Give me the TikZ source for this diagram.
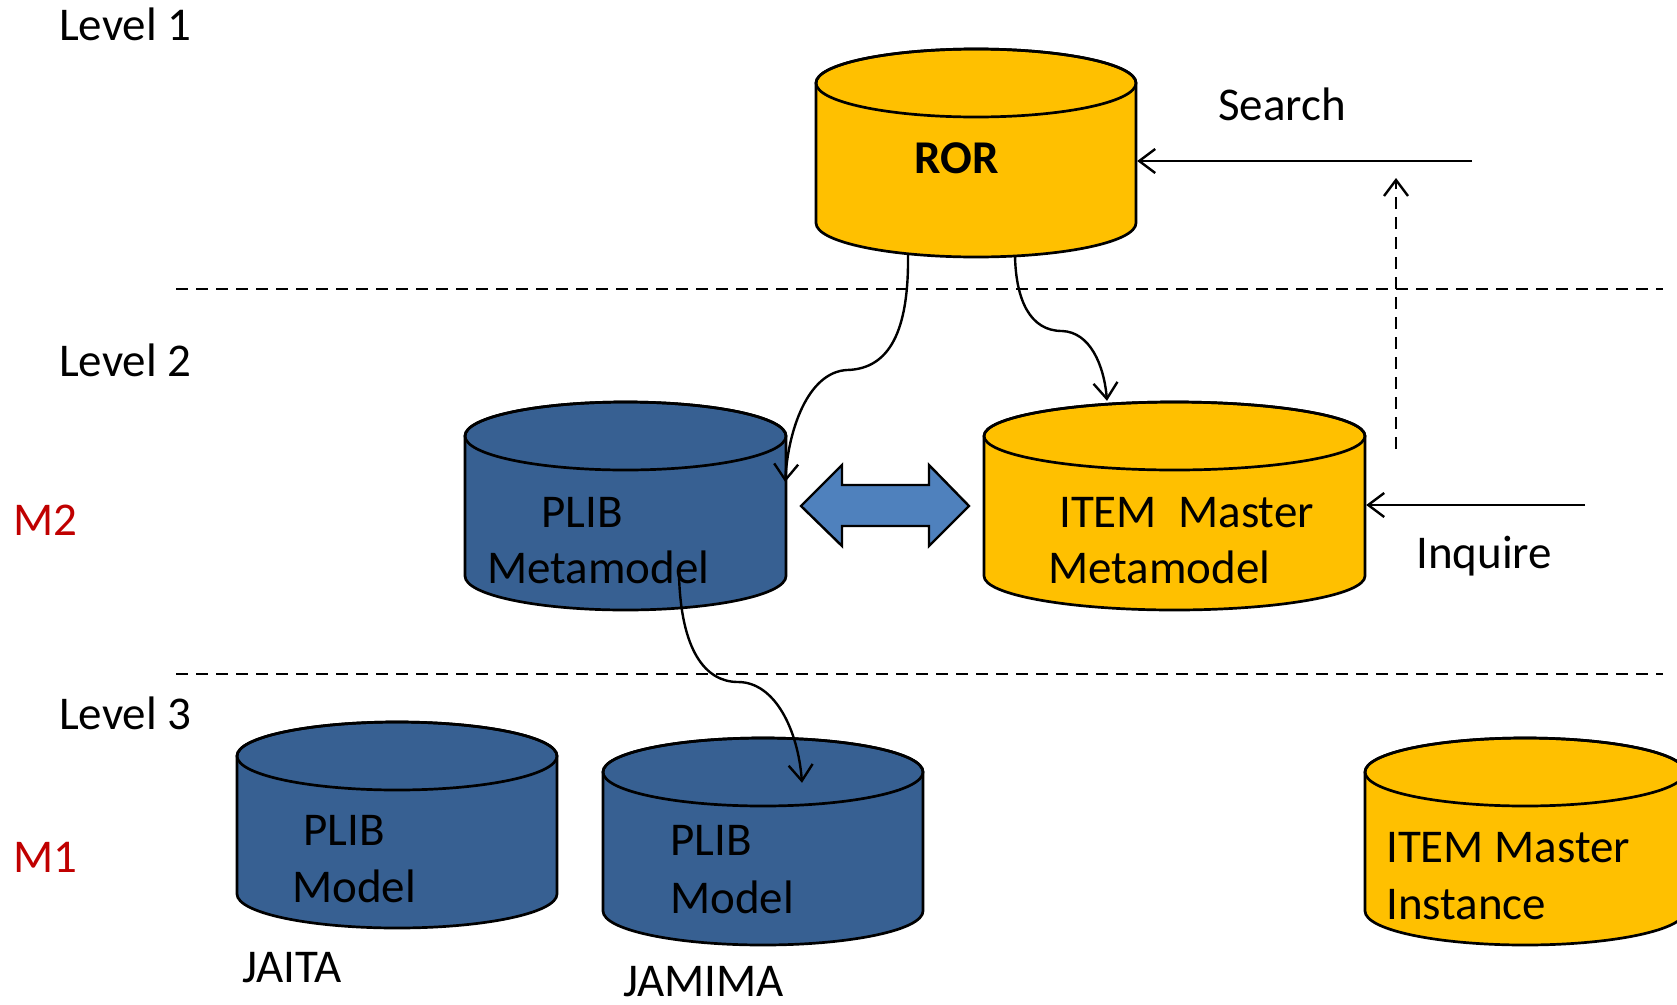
\documentclass[tikz,border=0pt]{standalone}
\usepackage{fontspec}
\setmainfont{Carlito}
\usetikzlibrary{arrows.meta,calc}
\definecolor{cylyellow}{HTML}{FFC000}
\definecolor{cylblue}{HTML}{376092}
\definecolor{arrowblue}{HTML}{4F81BD}
\definecolor{mred}{HTML}{C00000}
\tikzset{
  cylline/.style={draw=black, line width=2.7pt, line join=round},
  lbl/.style={anchor=base west, inner sep=0pt, font=\fontsize{47}{56}\selectfont},
  conn/.style={line width=2.4pt, -{Straight Barb[length=16pt,width=24pt,line width=2.4pt]}},
  dashconn/.style={conn, dash pattern=on 12pt off 8pt},
  levelline/.style={line width=2.4pt, dash pattern=on 12pt off 8pt},
}
% name, x1, ytop, x2, ybottom, colour (pixel units, y downward)
\newcommand\dbcyl[6]{%
  \pgfmathsetmacro\cylcx{(#2+#4)/2}%
  \pgfmathsetmacro\cylrx{(#4-#2)/2}%
  \pgfmathsetmacro\cylyt{-(#3)-34}%
  \pgfmathsetmacro\cylyb{-(#5)+34}%
  \pgfmathsetmacro\cylcy{-(#3+#5)/2}%
  \pgfmathsetmacro\cylw{#4-#2}%
  \pgfmathsetmacro\cylh{#5-#3}%
  \filldraw[cylline, fill=#6] (#2,\cylyt) -- (#2,\cylyb)
     arc[start angle=180, end angle=360, x radius=\cylrx, y radius=34]
     -- (#4,\cylyt)
     arc[start angle=0, end angle=180, x radius=\cylrx, y radius=34] -- cycle;
  \draw[cylline] (\cylcx,\cylyt) ellipse[x radius=\cylrx, y radius=34];
  \node[inner sep=0pt, minimum width=\cylw pt, minimum height=\cylh pt] (#1) at (\cylcx,\cylcy) {};
}
\begin{document}
\begin{tikzpicture}[x=1pt,y=1pt]
\useasboundingbox[fill=white] (0,0) rectangle (1677,-1004);

% level separators
\draw[levelline] (176,-289) -- (1663,-289);
\draw[levelline] (176,-674) -- (1663,-674);

% level labels
\node[lbl] (lv1) at (59,-40) {Level 1};
\node[lbl] (lv2) at (59,-376) {Level 2};
\node[lbl] (lv3) at (59,-729) {Level 3};
\node[lbl, text=mred] (m2) at (13,-535) {M2};
\node[lbl, text=mred] (m1) at (13,-872) {M1};

% cylinders
\dbcyl{ror}{816}{49}{1136}{257}{cylyellow}
\dbcyl{plibm}{465}{402}{786}{610}{cylblue}
\dbcyl{itemm}{984}{402}{1365}{610}{cylyellow}
\dbcyl{jaita}{237}{722}{557}{928}{cylblue}
\dbcyl{jamima}{603}{738}{923}{945}{cylblue}
\dbcyl{inst}{1365}{738}{1685}{945}{cylyellow}

% texts
\node[lbl, font=\fontsize{47}{56}\selectfont\bfseries] (rortxt) at (914,-173) {ROR};
\node[lbl] (plibm1) at (541,-527) {PLIB};
\node[lbl] (plibm2) at (487,-583) {Metamodel};
\node[lbl] (itemm1) at (1059,-527) {ITEM\ \ Master};
\node[lbl] (itemm2) at (1048,-583) {Metamodel};
\node[lbl] (jaita1) at (303,-845) {PLIB};
\node[lbl] (jaita2) at (292,-902) {Model};
\node[lbl] (jaitalbl) at (242,-982) {JAITA};
\node[lbl] (jam1) at (670,-855) {PLIB};
\node[lbl] (jam2) at (670,-913) {Model};
\node[lbl] (jamlbl) at (623,-996) {JAMIMA};
\node[lbl] (inst1) at (1386,-862) {ITEM Master};
\node[lbl] (inst2) at (1386,-919) {Instance};
\node[lbl] (search) at (1218,-120) {Search};
\node[lbl] (inquire) at (1416,-568) {Inquire};

% double arrow
\filldraw[fill=arrowblue, draw=black, line width=2.4pt, line join=miter]
  (801,-506) -- (842,-465) -- (842,-485) -- (929,-485) -- (929,-465)
  -- (969,-506) -- (929,-546) -- (929,-526) -- (842,-526) -- (842,-546) -- cycle;

% connectors
\coordinate (searchstart) at (1472,-161);
\draw[conn] (searchstart) -- ($(ror.east)+(1,-8)$);
\coordinate (inqstart) at (1585,-505);
\draw[conn] (inqstart) -- ($(itemm.east)+(1,1)$);
\coordinate (dashlow) at (1396,-449);
\coordinate (dashhigh) at (1396,-178);
\draw[dashconn] (dashlow) -- (dashhigh);

\draw[conn] ($(ror.south)+(-68,3)$) .. controls (909,-330) and (890,-369) .. (847,-370)
  .. controls (808,-372) and (788,-430) .. ($(plibm.east)+(-1,24)$);
\draw[conn] ($(ror.south)+(39,1)$) .. controls (1016,-300) and (1030,-331) .. (1062,-331)
  .. controls (1090,-332) and (1104,-365) .. ($(itemm.north)+(-67.5,1)$);
\draw[conn] ($(plibm.south)+(53.5,35)$) .. controls (681,-650) and (705,-682) .. (738,-682)
  .. controls (775,-682) and (798,-730) .. ($(jamima.north)+(39,-45)$);
\end{tikzpicture}
\end{document}
